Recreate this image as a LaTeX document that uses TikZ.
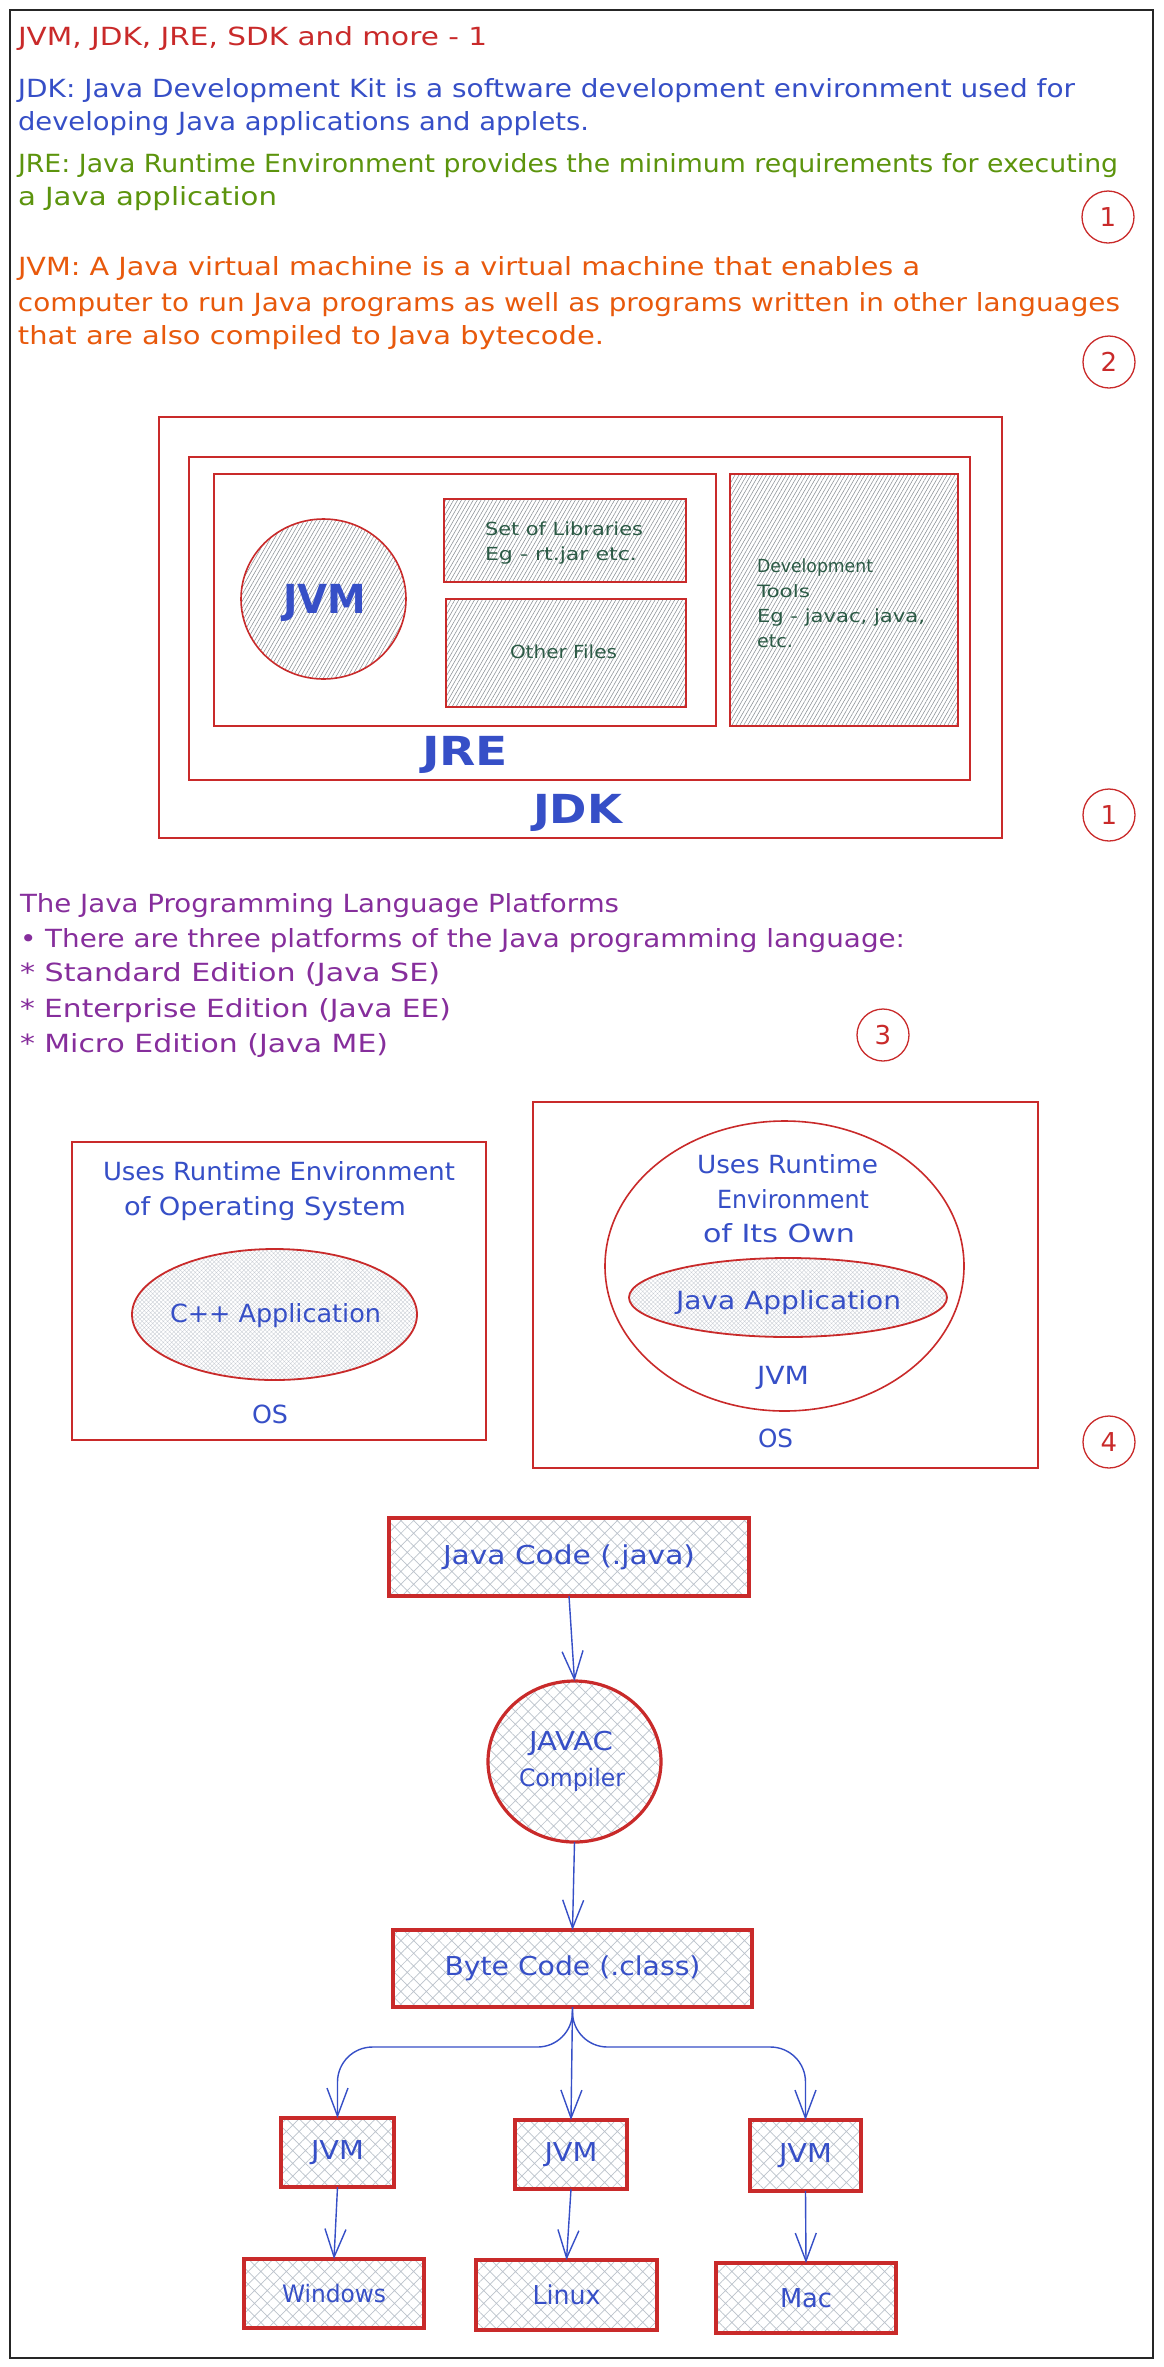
\documentclass[tikz,border=0pt]{standalone}
\usepackage{graphicx}
\usepackage{fontspec}
\setmainfont{DejaVu Sans}
\usetikzlibrary{arrows.meta,patterns.meta,shapes.geometric}
\definecolor{exred}{HTML}{C92A2A}
\definecolor{exblue}{HTML}{364FC7}
\definecolor{exgreen}{HTML}{5C940D}
\definecolor{exorange}{HTML}{E8590C}
\definecolor{expurple}{HTML}{862E9C}
\definecolor{exdkgreen}{HTML}{2B5A45}
\definecolor{hatchgray}{HTML}{8A9096}
\definecolor{xhatch}{HTML}{BCC3CC}
\definecolor{finehatch}{HTML}{C8CDD4}
\newcommand{\fw}[2]{\resizebox{#1pt}{\height}{#2}}
\begin{document}
\begin{tikzpicture}[x=1pt,y=-1pt,
  every node/.style={inner sep=0pt,outer sep=0pt},
  txt/.style={anchor=base west},
  hd/.style={font=\fontsize{25}{30}\selectfont},
  small/.style={font=\fontsize{18}{22}\selectfont,text=exdkgreen},
  numc/.style={circle,draw=exred,line width=1.3pt,minimum size=52pt,text=exred,font=\fontsize{26}{30}\selectfont},
  thinbox/.style={draw=exred,line width=1.5pt,anchor=north west},
  hatchbox/.style={draw=exred,line width=2pt,anchor=north west,pattern={Lines[angle=60,distance=3.4pt,line width=0.55pt]},pattern color=hatchgray},
  flowbox/.style={draw=exred,line width=3.2pt,pattern={Hatch[angle=45,distance=9pt,line width=0.7pt]},pattern color=xhatch,text=exblue,font=\fontsize{26}{30}\selectfont},
  fineell/.style={ellipse,draw=exred,line width=1.8pt,pattern={Hatch[angle=45,distance=3pt,line width=0.35pt]},pattern color=finehatch},
  arr/.style={draw=exblue,line width=1.4pt,-{Straight Barb[length=28pt,width=21pt]}},
  bigl/.style={font=\bfseries\fontsize{40}{44}\selectfont,text=exblue}
]
\useasboundingbox (0,0) rectangle (1163,2367);
\fill[white] (0,0) rectangle (1163,2367);
\draw[black!85,line width=1.5pt] (10,10) rectangle (1153,2358);

% ---------- header text ----------
\node[txt,hd,text=exred] (title) at (18,45) {\fw{469}{JVM, JDK, JRE, SDK and more - 1}};
\node[txt,hd,text=exblue] (jdka) at (18,97) {\fw{1057}{JDK: Java Development Kit is a software development environment used for}};
\node[txt,hd,text=exblue] (jdkb) at (18,130) {\fw{571}{developing Java applications and applets.}};
\node[txt,hd,text=exgreen] (jrea) at (18,172) {\fw{1100}{JRE: Java Runtime Environment provides the minimum requirements for executing}};
\node[txt,hd,text=exgreen] (jreb) at (18,205) {\fw{259}{a Java application}};
\node[txt,hd,text=exorange] (jvma) at (18,275) {\fw{902}{JVM: A Java virtual machine is a virtual machine that enables a}};
\node[txt,hd,text=exorange] (jvmb) at (18,311) {\fw{1102}{computer to run Java programs as well as programs written in other languages}};
\node[txt,hd,text=exorange] (jvmc) at (18,344) {\fw{586}{that are also compiled to Java bytecode.}};
\node[numc] (nA) at (1108,217) {1};
\node[numc] (nB) at (1109,362) {2};

% ---------- JDK / JRE / JVM diagram ----------
\node[thinbox,minimum width=843pt,minimum height=421pt] (jdkbox) at (159,417) {};
\node[thinbox,minimum width=781pt,minimum height=323pt] (jrebox) at (189,457) {};
\node[thinbox,minimum width=502pt,minimum height=252pt] (inbox) at (214,474) {};
\node[hatchbox,minimum width=228pt,minimum height=252pt] (devbox) at (730,474) {};
\node[hatchbox,minimum width=242pt,minimum height=83pt] (libbox) at (444,499) {};
\node[hatchbox,minimum width=240pt,minimum height=108pt] (othbox) at (446,599) {};
\node[ellipse,draw=exred,line width=1.6pt,minimum width=165pt,minimum height=160pt,pattern={Lines[angle=60,distance=3.4pt,line width=0.55pt]},pattern color=hatchgray] (jvmell) at (323.5,599) {};
\node[txt,bigl] (jvmlbl) at (283,613) {\fw{83}{JVM}};
\node[txt,bigl] (jrelbl) at (422,765) {\fw{86}{JRE}};
\node[txt,bigl] (jdklbl) at (533,823) {\fw{89}{JDK}};
\node[txt,small] (liba) at (485,535) {\fw{158}{Set of Libraries}};
\node[txt,small] (libb) at (485,560) {\fw{152}{Eg - rt.jar etc.}};
\node[txt,small] (oth) at (510,658) {\fw{107}{Other Files}};
\node[txt,small] (deva) at (757,572) {\fw{116}{Development}};
\node[txt,small,font=\fontsize{17}{22}\selectfont] (devb) at (757,597) {\fw{53}{Tools}};
\node[txt,small] (devc) at (757,622) {\fw{168}{Eg - javac, java,}};
\node[txt,small] (devd) at (757,647) {\fw{36}{etc.}};
\node[numc] (nC) at (1109,815) {1};

% ---------- platforms ----------
\node[txt,hd,text=expurple] (pa) at (20,912) {\fw{599}{The Java Programming Language Platforms}};
\node[txt,hd,text=expurple] (pb) at (20,947) {\fw{885}{• There are three platforms of the Java programming language:}};
\node[txt,hd,text=expurple] (pc) at (20,981) {\fw{420}{* Standard Edition (Java SE)}};
\node[txt,hd,text=expurple] (pd) at (20,1017) {\fw{431}{* Enterprise Edition (Java EE)}};
\node[txt,hd,text=expurple] (pe) at (20,1052) {\fw{368}{* Micro Edition (Java ME)}};
\node[numc] (nD) at (883,1035) {3};

% ---------- runtime comparison ----------
\node[thinbox,line width=2pt,minimum width=414pt,minimum height=298pt] (lbox) at (72,1142) {};
\node[txt,hd,text=exblue] (la) at (103,1180) {\fw{352}{Uses Runtime Environment}};
\node[txt,hd,text=exblue] (lb) at (124,1215) {\fw{282}{of Operating System}};
\node[fineell,minimum width=285pt,minimum height=131pt] (cpp) at (274.5,1314.5) {};
\node[txt,hd,text=exblue] (cpplbl) at (170,1322) {\fw{211}{C++ Application}};
\node[txt,hd,text=exblue] (los) at (252,1423) {\fw{36}{OS}};

\node[thinbox,line width=2pt,minimum width=505pt,minimum height=366pt] (rbox) at (533,1102) {};
\node[ellipse,draw=exred,line width=1.6pt,minimum width=359pt,minimum height=290pt] (bigell) at (784.5,1266) {};
\node[txt,hd,text=exblue] (ra) at (697,1173) {\fw{181}{Uses Runtime}};
\node[txt,hd,text=exblue] (rb) at (717,1208) {\fw{152}{Environment}};
\node[txt,hd,text=exblue] (rc) at (703,1242) {\fw{152}{of Its Own}};
\node[fineell,minimum width=318pt,minimum height=79pt] (japp) at (788,1297.5) {};
\node[txt,hd,text=exblue] (japplbl) at (676,1309) {\fw{225}{Java Application}};
\node[txt,hd,text=exblue] (rjvm) at (757,1384) {\fw{52}{JVM}};
\node[txt,hd,text=exblue] (ros) at (758,1447) {\fw{35}{OS}};
\node[numc] (nE) at (1109,1442) {4};

% ---------- compile flow ----------
\node[flowbox,minimum width=360pt,minimum height=78pt] (jc) at (569,1557) {\fw{252}{Java Code (.java)}};
\node[flowbox,ellipse,minimum width=173pt,minimum height=161pt] (javac) at (574.5,1761.5) {};
\node[anchor=base,text=exblue,font=\fontsize{26}{30}\selectfont] (javaca) at (571,1750) {\fw{84}{JAVAC}};
\node[anchor=base,text=exblue,font=\fontsize{24}{30}\selectfont] (javacb) at (572,1786) {\fw{106}{Compiler}};
\node[flowbox,minimum width=359pt,minimum height=77pt] (bc) at (572.5,1968.5) {\fw{256}{Byte Code (.class)}};
\node[flowbox,minimum width=113pt,minimum height=69pt] (jvmA) at (337.5,2152.5) {\fw{53}{JVM}};
\node[flowbox,minimum width=112pt,minimum height=69pt] (jvmB) at (571,2154.5) {\fw{53}{JVM}};
\node[flowbox,minimum width=111pt,minimum height=71pt] (jvmC) at (805.5,2155.5) {\fw{53}{JVM}};
\node[flowbox,minimum width=180pt,minimum height=69pt,font=\fontsize{24}{30}\selectfont] (win) at (334,2293.5) {\fw{104}{Windows}};
\node[flowbox,minimum width=181pt,minimum height=70pt] (lin) at (566.5,2295) {\fw{68}{Linux}};
\node[flowbox,minimum width=180pt,minimum height=70pt] (mac) at (806,2298) {\fw{52}{Mac}};

\draw[arr] (jc.south) -- (javac.north);
\draw[arr] (javac.south) -- (bc.north);
\draw[arr,rounded corners=35pt] (bc.south) -- ++(0,40) -| (jvmA.north);
\draw[arr] (bc.south) -- (jvmB.north);
\draw[arr,rounded corners=35pt] (bc.south) -- ++(0,40) -| (jvmC.north);
\draw[arr] (jvmA.south) -- (win.north);
\draw[arr] (jvmB.south) -- (lin.north);
\draw[arr] (jvmC.south) -- (mac.north);
\end{tikzpicture}
\end{document}
